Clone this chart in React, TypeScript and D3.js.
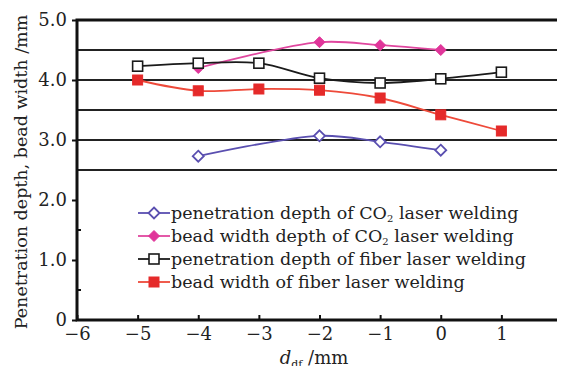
import React, { useRef, useEffect } from "react";
import * as d3 from "d3";

// values
const xCO2 = [-4, -2, -1, 0];
const co2Penetration = [2.73, 3.07, 2.97, 2.83];
const co2BeadWidth = [4.2, 4.63, 4.58, 4.5];
const xFiber = [-5, -4, -3, -2, -1, 0, 1];
const fiberPenetration = [4.23, 4.28, 4.28, 4.03, 3.95, 4.02, 4.13];
const fiberBeadWidth = [4.0, 3.82, 3.85, 3.83, 3.7, 3.42, 3.15];

const xTicks = [-6, -5, -4, -3, -2, -1, 0, 1, 2];
const yTicks = [0, 1, 2, 3, 4, 5];
const gridValues = [2.5, 3, 3.5, 4, 4.5];

const seriesNames = [
  "penetration depth of CO|2| laser welding",
  "bead width depth of CO|2| laser welding",
  "penetration depth of fiber laser welding",
  "bead width of fiber laser welding",
];

const series = [
  { xs: xCO2, ys: co2Penetration, color: "#5a4fb0", line: "#5a4fb0", marker: "diamond", filled: false },
  { xs: xCO2, ys: co2BeadWidth, color: "#e0359a", line: "#e0479f", marker: "diamond", filled: true },
  { xs: xFiber, ys: fiberPenetration, color: "#1a1a1a", line: "#1a1a1a", marker: "square", filled: false },
  { xs: xFiber, ys: fiberBeadWidth, color: "#e52a2a", line: "#ee4a3a", marker: "square", filled: true },
];

const FONT = "'DejaVu Serif', 'Liberation Serif', serif";

const App = () => {
  const svgRef = useRef<SVGSVGElement>(null);

  useEffect(() => {
    const svg = d3.select(svgRef.current);
    svg.selectAll("*").remove();

    const W = 565, H = 374;
    const margin = { top: 20, right: 3, bottom: 54, left: 77 };
    const x = d3.scaleLinear().domain([-6, 2]).range([margin.left, W - margin.right]);
    const y = d3.scaleLinear().domain([0, 5]).range([H - margin.bottom, margin.top]);

    svg.append("rect").attr("width", W).attr("height", H).attr("fill", "#fff");

    // grid lines
    svg.append("g")
      .selectAll("line")
      .data(gridValues)
      .join("line")
      .attr("x1", x(-6)).attr("x2", x(2))
      .attr("y1", d => y(d)).attr("y2", d => y(d))
      .attr("stroke", "#222").attr("stroke-width", 2);

    // frame
    svg.append("rect")
      .attr("x", x(-6)).attr("y", y(5))
      .attr("width", x(2) - x(-6)).attr("height", y(0) - y(5))
      .attr("fill", "none").attr("stroke", "#111").attr("stroke-width", 3);

    // x axis
    const xAxis = svg.append("g")
      .attr("transform", `translate(0,${y(0)})`)
      .call(d3.axisBottom(x).tickValues(xTicks).tickSize(-5).tickPadding(7)
        .tickFormat(d => d3.format("")(d as number).replace("-", "\u2212")));
    xAxis.select(".domain").remove();
    xAxis.selectAll("line").attr("stroke", "#111").attr("stroke-width", 2);
    xAxis.selectAll("text")
      .attr("fill", "#222").style("font-family", FONT).style("font-size", "18px");

    // y axis
    const yAxis = svg.append("g")
      .attr("transform", `translate(${x(-6)},0)`)
      .call(d3.axisLeft(y).tickValues(yTicks).tickSize(5).tickPadding(5)
        .tickFormat(d => (d === 0 ? "0" : d3.format(".1f")(d as number))));
    yAxis.select(".domain").remove();
    yAxis.selectAll("line").attr("stroke", "#111").attr("stroke-width", 2);
    yAxis.selectAll("text")
      .attr("fill", "#222").style("font-family", FONT).style("font-size", "18px");

    // minor ticks
    svg.append("g")
      .selectAll("line")
      .data([0.5, 1.5])
      .join("line")
      .attr("x1", x(-6)).attr("x2", x(-6) + 4)
      .attr("y1", d => y(d)).attr("y2", d => y(d))
      .attr("stroke", "#111").attr("stroke-width", 2);

    // axis titles
    svg.append("text")
      .attr("transform", `translate(27,${(y(0) + y(5)) / 2 + 2}) rotate(-90)`)
      .attr("text-anchor", "middle")
      .style("font-family", FONT).style("font-size", "17.5px").attr("fill", "#222")
      .text("Penetration depth, bead width /mm");

    const xt = svg.append("text")
      .attr("x", 314).attr("y", 364)
      .attr("text-anchor", "middle")
      .style("font-family", FONT).style("font-size", "18px").attr("fill", "#222");
    xt.append("tspan").attr("font-style", "italic").text("d");
    xt.append("tspan").attr("font-size", "11px").attr("dy", 4).text("df");
    xt.append("tspan").attr("dy", -4).text(" /mm");

    const line = d3.line<[number, number]>()
      .x(d => x(d[0])).y(d => y(d[1]))
      .curve(d3.curveCatmullRom.alpha(0.5));

    const drawMarker = (g: any, cx: number, cy: number, s: typeof series[0]) => {
      if (s.marker === "diamond") {
        const r = 5.5;
        g.append("path")
          .attr("d", `M${cx},${cy - r}L${cx + r},${cy}L${cx},${cy + r}L${cx - r},${cy}Z`)
          .attr("fill", s.filled ? s.color : "#fff")
          .attr("stroke", s.color).attr("stroke-width", s.filled ? 1 : 1.8);
      } else {
        const r = 5;
        g.append("rect")
          .attr("x", cx - r).attr("y", cy - r).attr("width", 2 * r).attr("height", 2 * r)
          .attr("fill", s.filled ? s.color : "#fff")
          .attr("stroke", s.color).attr("stroke-width", s.filled ? 1 : 1.6);
      }
    };

    const plot = svg.append("g");
    series.forEach(s => {
      const pts = s.xs.map((v, i) => [v, s.ys[i]] as [number, number]);
      plot.append("path")
        .attr("d", line(pts))
        .attr("fill", "none").attr("stroke", s.line).attr("stroke-width", 1.8);
      pts.forEach(p => drawMarker(plot, x(p[0]), y(p[1]), s));
    });

    // legend
    const legend = svg.append("g");
    seriesNames.forEach((name, i) => {
      const s = series[i];
      const ly = 213 + i * 23;
      legend.append("line")
        .attr("x1", 138).attr("x2", 170).attr("y1", ly).attr("y2", ly)
        .attr("stroke", s.line).attr("stroke-width", 1.8);
      drawMarker(legend, 154, ly, s);
      const t = legend.append("text")
        .attr("x", 171).attr("y", ly + 6)
        .style("font-family", FONT).style("font-size", "17.5px").attr("fill", "#222");
      name.split("|").forEach((part, k) => {
        if (k === 1) t.append("tspan").attr("font-size", "10px").attr("dy", 3).text(part);
        else if (k === 2) t.append("tspan").attr("dy", -3).text(part);
        else t.append("tspan").text(part);
      });
    });
  }, []);

  return (
    <div style={{ width: 565, height: 374, margin: -8 }}>
      <svg ref={svgRef} width={565} height={374} style={{ display: "block" }} />
    </div>
  );
};

export default App;
